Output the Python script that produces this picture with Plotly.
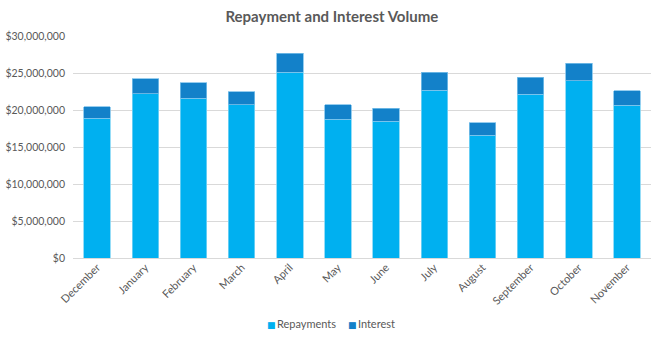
import plotly.graph_objects as go

months = ["December", "January", "February", "March", "April", "May",
          "June", "July", "August", "September", "October", "November"]
repayments = [18_900_000, 22_200_000, 21_570_000, 20_720_000, 25_130_000, 18_750_000,
              18_450_000, 22_640_000, 16_600_000, 22_100_000, 23_970_000, 20_630_000]
interest = [1_550_000, 2_000_000, 2_090_000, 1_780_000, 2_570_000, 1_970_000,
            1_780_000, 2_490_000, 1_660_000, 2_300_000, 2_330_000, 1_970_000]

y_ticks = [0, 5_000_000, 10_000_000, 15_000_000, 20_000_000, 25_000_000, 30_000_000]

FONT = "Lato"
TEXT = "#595959"
REPAY_COLOR = "#00B0F0"
INTEREST_COLOR = "#1381C9"

fig = go.Figure()
fig.add_trace(go.Bar(
    name="Repayments", x=months, y=repayments,
    marker=dict(color=REPAY_COLOR, line=dict(color="#7dd4f5", width=0.8)),
    showlegend=False,
))
fig.add_trace(go.Bar(
    name="Interest", x=months, y=interest,
    marker=dict(color=INTEREST_COLOR, line=dict(color="#7dc0ea", width=0.8)),
    showlegend=False,
))

# legend entries: a small coloured square set right against the label,
# each in its own legend box so the two keys sit close together
for name, color, leg in [("Repayments", REPAY_COLOR, "legend"),
                         ("Interest", INTEREST_COLOR, "legend2")]:
    fig.add_trace(go.Scatter(
        name=f"<span style='color:{color};font-family:DejaVu Sans;font-size:9px'>■</span>\u2009{name}",
        x=[None], y=[None], mode="markers",
        marker=dict(symbol="square", size=1, color="rgba(0,0,0,0)"),
        showlegend=True, legend=leg,
    ))

PLOT_LEFT, PLOT_W = 73, 578
legend_common = dict(
    orientation="h", xanchor="left", y=-0.298, yanchor="middle",
    font=dict(family=FONT, size=11, color=TEXT), itemwidth=30,
    bgcolor="rgba(0,0,0,0)",
)

fig.update_layout(
    width=661, height=339,
    margin=dict(l=PLOT_LEFT, r=10, t=36, b=81, autoexpand=False),
    barmode="stack",
    bargap=0.45,
    paper_bgcolor="white",
    plot_bgcolor="white",
    font=dict(family=FONT, color=TEXT, size=10),
    title=dict(
        text="<b>Repayment and Interest Volume</b>",
        x=0.502, xanchor="center", y=0.951, yanchor="middle",
        font=dict(family=FONT, size=15, color=TEXT),
    ),
    xaxis=dict(
        tickangle=-45, showgrid=False, showline=False, ticks="",
        automargin=False,
        tickfont=dict(family=FONT, size=11, color=TEXT),
    ),
    yaxis=dict(
        range=[0, 30_000_000], tickvals=y_ticks, tickformat="$,.0f",
        showgrid=True, gridcolor="#D9D9D9", gridwidth=1,
        zeroline=True, zerolinecolor="#D9D9D9", zerolinewidth=1,
        showline=False, ticks="", ticklabelstandoff=7, automargin=False,
        tickfont=dict(family=FONT, size=10.5, color=TEXT),
    ),
    legend=dict(x=(269 - 42 - PLOT_LEFT) / PLOT_W, **legend_common),
    legend2=dict(x=(350 - 42 - PLOT_LEFT) / PLOT_W, **legend_common),
)

fig.write_html("out.html")
